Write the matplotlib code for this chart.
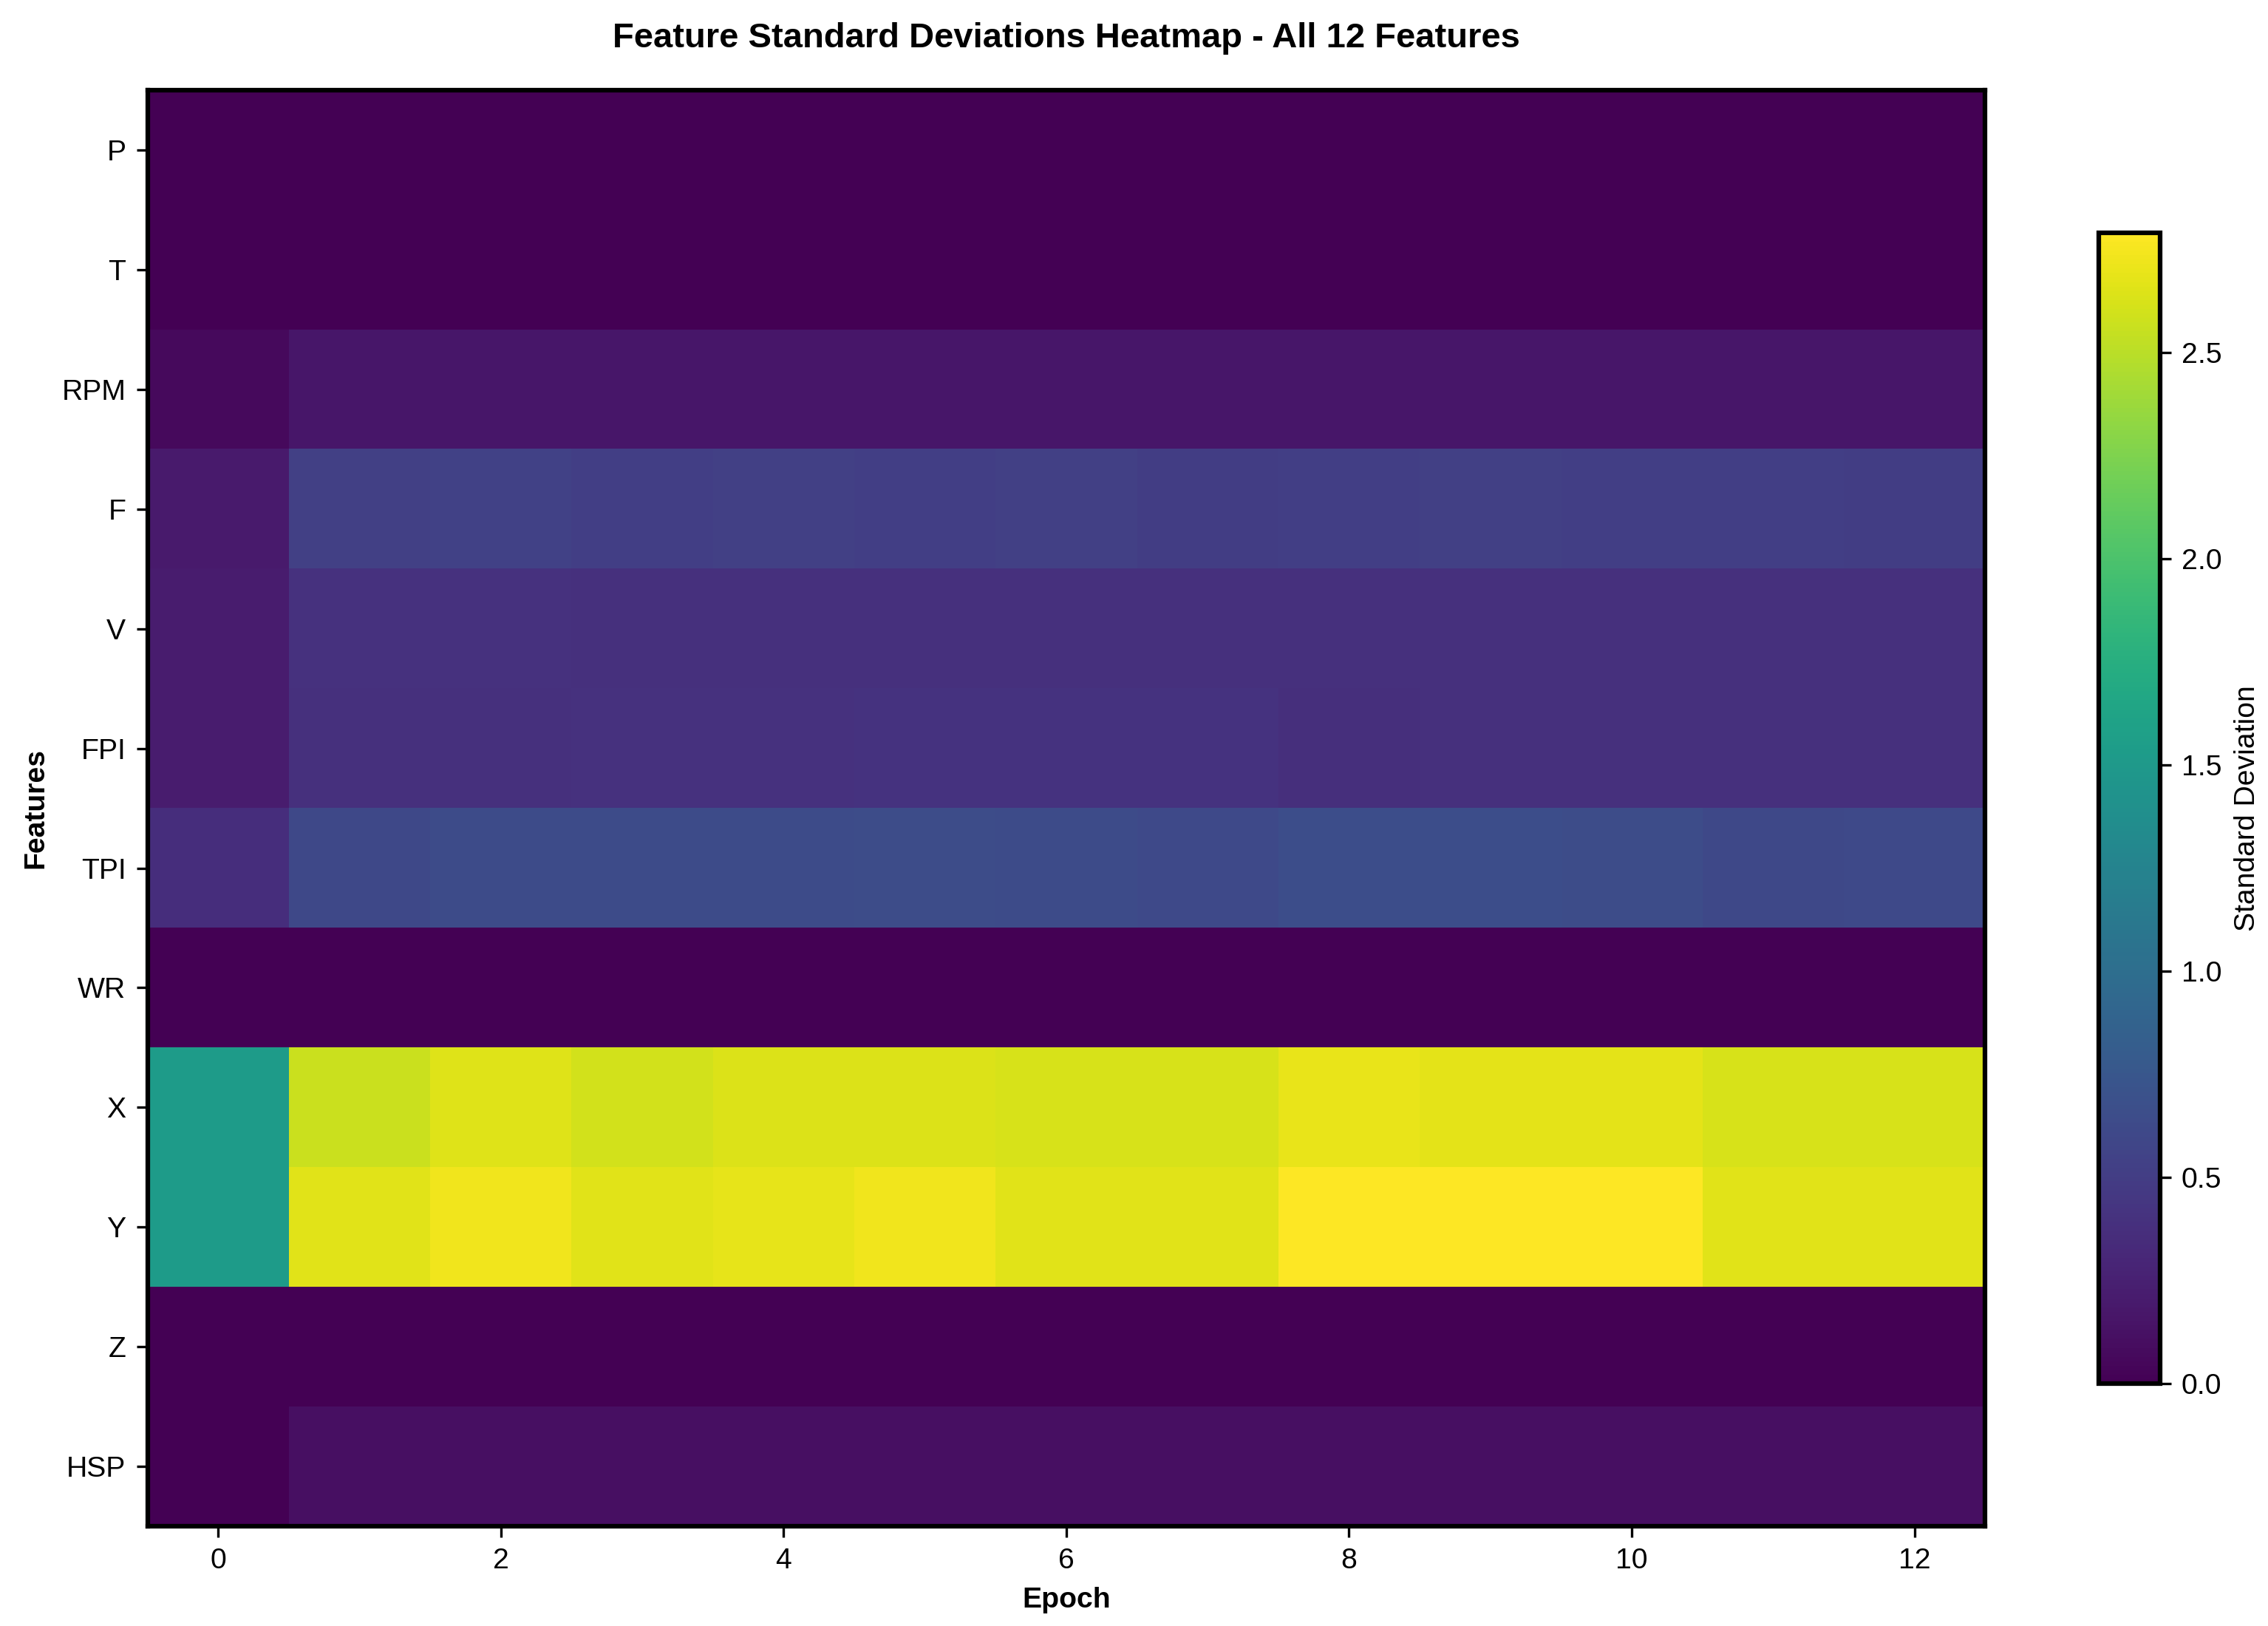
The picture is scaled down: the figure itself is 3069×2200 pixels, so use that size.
import matplotlib
matplotlib.use('Agg')
import matplotlib.pyplot as plt
import numpy as np

plt.rcParams['font.family'] = ['Liberation Sans', 'DejaVu Sans']
plt.rcParams['font.size'] = 9.4

# 特征名称和轮次
features = ['P', 'T', 'RPM', 'F', 'V', 'FPI', 'TPI', 'WR', 'X', 'Y', 'Z', 'HSP']
epochs = list(range(13))

# 每个特征在各轮次的标准差
std_P = [0.0, 0.0, 0.0, 0.0, 0.0, 0.0, 0.0, 0.0, 0.0, 0.0, 0.0, 0.0, 0.0]
std_T = [0.0, 0.0, 0.0, 0.0, 0.0, 0.0, 0.0, 0.0, 0.0, 0.0, 0.0, 0.0, 0.0]
std_RPM = [0.07, 0.17, 0.17, 0.17, 0.17, 0.17, 0.17, 0.17, 0.17, 0.17, 0.17, 0.17, 0.17]
std_F = [0.20, 0.53, 0.54, 0.52, 0.53, 0.52, 0.53, 0.51, 0.52, 0.53, 0.52, 0.52, 0.51]
std_V = [0.21, 0.40, 0.40, 0.39, 0.39, 0.39, 0.39, 0.39, 0.39, 0.39, 0.39, 0.39, 0.39]
std_FPI = [0.21, 0.39, 0.39, 0.40, 0.40, 0.41, 0.41, 0.41, 0.38, 0.39, 0.39, 0.39, 0.39]
std_TPI = [0.37, 0.61, 0.64, 0.64, 0.64, 0.65, 0.64, 0.62, 0.66, 0.66, 0.65, 0.60, 0.62]
std_WR = [0.01, 0.003, 0.003, 0.003, 0.003, 0.003, 0.003, 0.003, 0.003, 0.003, 0.003, 0.003, 0.003]
std_X = [1.53, 2.57, 2.65, 2.60, 2.64, 2.64, 2.62, 2.62, 2.70, 2.68, 2.68, 2.62, 2.62]
std_Y = [1.53, 2.66, 2.73, 2.67, 2.69, 2.73, 2.66, 2.66, 2.79, 2.78, 2.79, 2.66, 2.66]
std_Z = [0.0, 0.0, 0.0, 0.0, 0.0, 0.0, 0.0, 0.0, 0.0, 0.0, 0.0, 0.0, 0.0]
std_HSP = [0.01, 0.11, 0.11, 0.11, 0.11, 0.11, 0.11, 0.11, 0.11, 0.11, 0.11, 0.11, 0.11]

data = np.array([std_P, std_T, std_RPM, std_F, std_V, std_FPI, std_TPI,
                 std_WR, std_X, std_Y, std_Z, std_HSP])

fig = plt.figure(figsize=(3070 / 300, 2200 / 300), dpi=300)
ax = fig.add_axes([0.065, 0.0614, 0.81, 0.883])
cax = fig.add_axes([0.925, 0.149, 0.027, 0.708])

im = ax.imshow(data, aspect='auto', cmap='viridis', interpolation='nearest')

ax.set_yticks(range(len(features)))
ax.set_yticklabels(features)
ax.set_xticks(range(0, 13, 2))
ax.set_xlabel('Epoch', fontweight='bold')
ax.set_ylabel('Features', fontweight='bold')
ax.set_title('Feature Standard Deviations Heatmap - All 12 Features',
             fontsize=11.3, fontweight='bold', pad=14)
for s in ax.spines.values():
    s.set_linewidth(1.5)

cbar = fig.colorbar(im, cax=cax)
cbar.set_label('Standard Deviation')
cbar.outline.set_linewidth(1.5)

plt.savefig('out.png', dpi=300)
